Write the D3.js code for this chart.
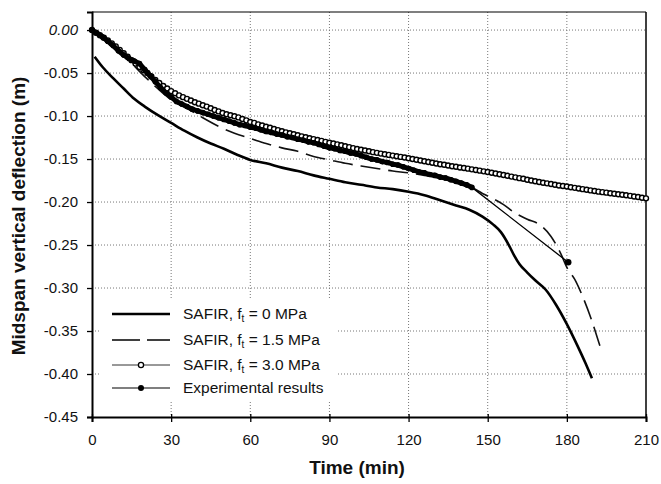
<!DOCTYPE html>
<html><head><meta charset="utf-8">
<script src="https://cdn.jsdelivr.net/npm/d3@7"></script>
<style>body{margin:0;background:#fff}</style>
</head><body><svg id="c" width="661" height="484"></svg>
<script>
// ---- data (time in min, midspan deflection in m) ----
const xTicks = [0,30,60,90,120,150,180,210];
const yTicks = [0,-0.05,-0.10,-0.15,-0.20,-0.25,-0.30,-0.35,-0.40,-0.45];
const yTickLabels = ["0.00","-0.05","-0.10","-0.15","-0.20","-0.25","-0.30","-0.35","-0.40","-0.45"];

const safir0Time = [1,4,8,12,16,20,25,30,35,40,45,50,55,60,66,72,78,84,90,96,102,108,114,120,126,132,138,143,148,152,155,158,160,162,165,168,172,176,180,184,187,189.5];
const safir0Defl = [-0.031,-0.043,-0.056,-0.068,-0.080,-0.089,-0.099,-0.108,-0.117,-0.125,-0.132,-0.138,-0.145,-0.151,-0.155,-0.160,-0.164,-0.169,-0.173,-0.177,-0.180,-0.183,-0.185,-0.188,-0.192,-0.198,-0.204,-0.209,-0.217,-0.226,-0.235,-0.250,-0.262,-0.272,-0.282,-0.291,-0.302,-0.320,-0.342,-0.367,-0.387,-0.405];

const safir15Time = [0,6,10,14,18,22,26,30,36,42,48,54,60,66,72,78,84,90,96,102,108,114,120,126,132,138,144,148,152,156,160,165,170,174,176,178,180,183,186,189,193];
const safir15Defl = [0,-0.012,-0.022,-0.035,-0.048,-0.060,-0.071,-0.081,-0.091,-0.102,-0.112,-0.120,-0.126,-0.132,-0.137,-0.141,-0.147,-0.151,-0.155,-0.158,-0.161,-0.164,-0.166,-0.169,-0.172,-0.177,-0.183,-0.190,-0.196,-0.203,-0.212,-0.220,-0.227,-0.240,-0.250,-0.262,-0.276,-0.290,-0.310,-0.334,-0.372];

const safir30Time = [0,1.5,3,4.5,6,7.5,9,10.5,12,13.5,15,16.5,18,19.5,21,22.5,24,25.5,27,28.5,30,31.5,33,34.5,36,37.5,39,40.5,42,43.5,45,46.5,48,49.5,51,52.5,54,55.5,57,58.5,60,61.5,63,64.5,66,67.5,69,70.5,72,73.5,75,76.5,78,79.5,81,82.5,84,85.5,87,88.5,90,91.5,93,94.5,96,97.5,99,100.5,102,103.5,105,106.5,108,109.5,111,112.5,114,115.5,117,118.5,120,121.5,123,124.5,126,127.5,129,130.5,132,133.5,135,136.5,138,139.5,141,142.5,144,145.5,147,148.5,150,151.5,153,154.5,156,157.5,159,160.5,162,163.5,165,166.5,168,169.5,171,172.5,174,175.5,177,178.5,180,181.5,183,184.5,186,187.5,189,190.5,192,193.5,195,196.5,198,199.5,201,202.5,204,205.5,207,208.5,210];
const safir30Defl = [0,-0.003,-0.006,-0.009,-0.012,-0.0155,-0.019,-0.023,-0.027,-0.031,-0.035,-0.039,-0.043,-0.0465,-0.050,-0.054,-0.058,-0.0615,-0.065,-0.068,-0.071,-0.0735,-0.076,-0.078,-0.080,-0.082,-0.084,-0.0856,-0.0874,-0.089,-0.091,-0.093,-0.0946,-0.0964,-0.098,-0.099,-0.1002,-0.1016,-0.1034,-0.105,-0.107,-0.108,-0.1097,-0.111,-0.1124,-0.1137,-0.115,-0.1164,-0.1176,-0.119,-0.120,-0.1212,-0.1224,-0.1236,-0.1247,-0.1258,-0.1268,-0.1278,-0.1289,-0.130,-0.131,-0.132,-0.133,-0.134,-0.1352,-0.1362,-0.1373,-0.1383,-0.1392,-0.140,-0.141,-0.142,-0.1428,-0.1437,-0.1445,-0.1452,-0.146,-0.1467,-0.1475,-0.1482,-0.149,-0.150,-0.1508,-0.1517,-0.1526,-0.1535,-0.1544,-0.1552,-0.156,-0.1567,-0.1575,-0.1583,-0.159,-0.1598,-0.1605,-0.1612,-0.162,-0.1628,-0.1635,-0.1643,-0.165,-0.166,-0.1668,-0.1677,-0.1686,-0.1695,-0.1704,-0.1713,-0.1722,-0.173,-0.174,-0.1749,-0.1758,-0.1767,-0.1775,-0.1783,-0.1791,-0.1799,-0.1807,-0.1814,-0.182,-0.1828,-0.1835,-0.1843,-0.185,-0.1858,-0.1865,-0.1872,-0.1879,-0.1885,-0.1891,-0.1897,-0.1903,-0.1909,-0.1915,-0.1921,-0.1928,-0.1935,-0.1942,-0.195,-0.1957];

const expTime = [0,2,4,6,8,10,12,14,16,18,20,22,24,26,28,30,32,34,36,38,40,42,44,46,48,50,52,54,56,58,60,62,64,66,68,70,72,74,76,78,80,82,84,86,88,90,92,94,96,98,100,102,104,106,108,110,112,114,116,118,120,122,124,126,128,130,132,134,136,138,140,142,144,180.5];
const expDefl = [0,-0.004,-0.008,-0.013,-0.018,-0.024,-0.029,-0.033,-0.036,-0.039,-0.046,-0.053,-0.060,-0.067,-0.073,-0.078,-0.083,-0.086,-0.089,-0.092,-0.094,-0.096,-0.098,-0.100,-0.102,-0.104,-0.106,-0.108,-0.110,-0.111,-0.113,-0.114,-0.116,-0.118,-0.119,-0.121,-0.122,-0.124,-0.125,-0.127,-0.128,-0.130,-0.131,-0.133,-0.135,-0.137,-0.138,-0.140,-0.141,-0.143,-0.144,-0.146,-0.148,-0.150,-0.151,-0.153,-0.154,-0.156,-0.157,-0.159,-0.161,-0.163,-0.165,-0.166,-0.168,-0.169,-0.171,-0.172,-0.174,-0.176,-0.178,-0.180,-0.183,-0.270];

const legendLabels = [["SAFIR, f","t"," = 0 MPa"],["SAFIR, f","t"," = 1.5 MPa"],["SAFIR, f","t"," = 3.0 MPa"],["Experimental results","",""]];

// ---- drawing ----
const svg = d3.select("#c");
const FONT = "'Liberation Sans', Arial, Helvetica, sans-serif";
const L = 92, R = 646, T = 12, B = 417;
const x = d3.scaleLinear().domain([0,210]).range([L,R]);
const y = d3.scaleLinear().domain([-0.45,0.021]).range([B,T]);
const zip = (a,b) => a.map((t,i)=>[t,b[i]]);

// grid
const g = svg.append("g");
g.selectAll("line.v").data(xTicks.filter(t=>t>0&&t<210)).join("line")
  .attr("x1",d=>x(d)).attr("x2",d=>x(d)).attr("y1",T).attr("y2",B)
  .attr("stroke","#777").attr("stroke-width",1).attr("stroke-dasharray","1,2");
g.selectAll("line.h").data(yTicks.filter(t=>t>-0.45)).join("line")
  .attr("x1",L).attr("x2",R).attr("y1",d=>y(d)).attr("y2",d=>y(d))
  .attr("stroke","#777").attr("stroke-width",1).attr("stroke-dasharray","1,2");

// frame top/right
svg.append("line").attr("x1",L).attr("x2",R).attr("y1",T).attr("y2",T).attr("stroke","#000").attr("stroke-width",1.2);
svg.append("line").attr("x1",R).attr("x2",R).attr("y1",T).attr("y2",B).attr("stroke","#000").attr("stroke-width",1.5);

// axes
const xAxis = d3.axisBottom(x).tickValues(xTicks).tickSize(5).tickFormat(d3.format("d"));
const gx = svg.append("g").attr("transform",`translate(0,${B})`).call(xAxis);
gx.select(".domain").attr("stroke-width",2);
gx.selectAll(".tick line").attr("y1",-3).attr("stroke-width",1.3);
gx.selectAll(".tick text").attr("y",17).attr("font-size",15).attr("font-family",FONT).attr("fill","#111");

const yAxis = d3.axisLeft(y).tickValues(yTicks).tickSize(5).tickFormat((d,i)=>yTickLabels[i]);
const gy = svg.append("g").attr("transform",`translate(${L},0)`).call(yAxis);
gy.select(".domain").attr("stroke-width",2);
gy.selectAll(".tick line").attr("stroke-width",1.3);
gy.selectAll(".tick text").attr("x",-14).attr("font-size",15).attr("font-family",FONT).attr("fill","#111")
  .attr("font-style",(d,i)=>i===0?"italic":"normal");

// axis titles
svg.append("text").attr("x",357).attr("y",474).attr("text-anchor","middle")
  .attr("font-family",FONT).attr("font-weight","bold").attr("font-size",19).attr("fill","#111").text("Time (min)");
svg.append("text").attr("transform","translate(25,216) rotate(-90)").attr("text-anchor","middle")
  .attr("font-family",FONT).attr("font-weight","bold").attr("font-size",19).attr("fill","#111").text("Midspan vertical deflection (m)");

const line = d3.line().x(d=>x(d[0])).y(d=>y(d[1]));
const smooth = d3.line().x(d=>x(d[0])).y(d=>y(d[1])).curve(d3.curveMonotoneX);
const plot = svg.append("g");

// SAFIR 1.5 (dashed)
plot.append("path").attr("d",smooth(zip(safir15Time,safir15Defl))).attr("fill","none")
  .attr("stroke","#111").attr("stroke-width",1.6).attr("stroke-dasharray","20,8");
// SAFIR 0 (thick solid)
plot.append("path").attr("d",smooth(zip(safir0Time,safir0Defl))).attr("fill","none")
  .attr("stroke","#000").attr("stroke-width",2.6);
// SAFIR 3.0 (open circles)
const s30 = zip(safir30Time,safir30Defl);
plot.append("path").attr("d",line(s30)).attr("fill","none").attr("stroke","#222").attr("stroke-width",1);
plot.selectAll("circle.o").data(s30).join("circle").attr("class","o")
  .attr("cx",d=>x(d[0])).attr("cy",d=>y(d[1])).attr("r",2.5).attr("fill","#fff").attr("stroke","#000").attr("stroke-width",1.4);
// Experimental (dense logging appears as a thick band; sparse tail as thin line)
const expData = zip(expTime,expDefl);
plot.append("path").attr("d",line(expData)).attr("fill","none").attr("stroke","#000").attr("stroke-width",1.3);
const densePairs = d3.pairs(expData).filter(([a,b])=>b[0]-a[0]<=2);
plot.selectAll("line.ed").data(densePairs).join("line").attr("class","ed")
  .attr("x1",d=>x(d[0][0])).attr("y1",d=>y(d[0][1])).attr("x2",d=>x(d[1][0])).attr("y2",d=>y(d[1][1]))
  .attr("stroke","#000").attr("stroke-width",5).attr("stroke-linecap","round");
plot.selectAll("circle.e").data(expData).join("circle").attr("class","e")
  .attr("cx",d=>x(d[0])).attr("cy",d=>y(d[1])).attr("r",d=>d[0]>144?3.3:2.8).attr("fill","#000");

// legend
const lg = svg.append("g");
lg.append("rect").attr("x",100).attr("y",298).attr("width",238).attr("height",104).attr("fill","#fff");
const rowsY = [314,340,365,388];
const lx1 = 112, lx2 = 170, lxm = 141;
legendLabels.forEach((lab,i)=>{
  const yy = rowsY[i];
  const ln = lg.append("line").attr("x1",lx1).attr("x2",lx2).attr("y1",yy).attr("y2",yy).attr("stroke","#000");
  if(i===0) ln.attr("stroke-width",2.6);
  if(i===1) ln.attr("stroke-width",1.6).attr("stroke-dasharray","28,7");
  if(i===2){ ln.attr("stroke-width",1).attr("stroke","#333");
    lg.append("circle").attr("cx",lxm).attr("cy",yy).attr("r",2.6).attr("fill","#fff").attr("stroke","#000").attr("stroke-width",1.3);}
  if(i===3){ ln.attr("stroke-width",1.2);
    lg.append("circle").attr("cx",lxm).attr("cy",yy).attr("r",3).attr("fill","#000");}
  const t = lg.append("text").attr("x",183).attr("y",yy+5).attr("font-family",FONT).attr("font-size",15.5).attr("fill","#111");
  t.append("tspan").text(lab[0]);
  if(lab[1]) t.append("tspan").attr("dy",3).attr("font-size",10).text(lab[1]);
  if(lab[2]) t.append("tspan").attr("dy",-3).text(lab[2]);
});
</script></body></html>
